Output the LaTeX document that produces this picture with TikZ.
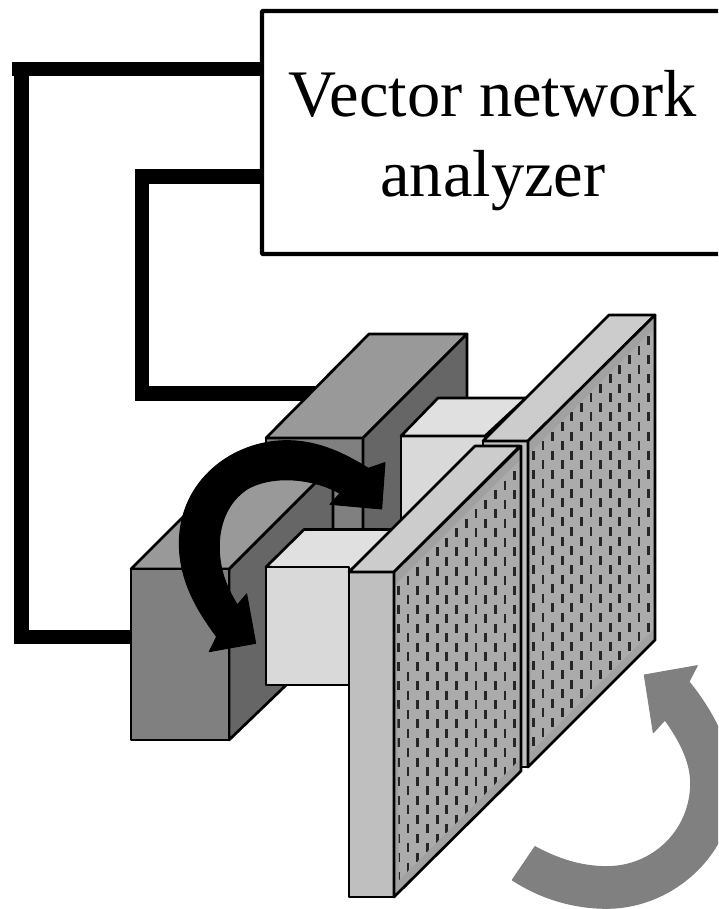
\documentclass[tikz,border=0pt]{standalone}
\usepackage{fontspec}
\setmainfont{Liberation Serif}
\definecolor{topD}{gray}{0.6}
\definecolor{frontD}{gray}{0.5}
\definecolor{sideD}{gray}{0.4}
\definecolor{topL}{gray}{0.88}
\definecolor{frontL}{gray}{0.85}
\definecolor{topP}{gray}{0.8}
\definecolor{frontP}{gray}{0.75}
\definecolor{sideP}{gray}{0.63}
\definecolor{innerP}{gray}{0.67}
\definecolor{dashP}{gray}{0.15}
\definecolor{arrowG}{gray}{0.5}
\tikzset{
  face/.style={draw=black,line width=2.7pt,line join=round},
  wire/.style={draw=black,line width=14.5pt},
  holes/.style={draw=dashP,line width=2.8pt},
  vnabox/.style={draw=black,line width=4.4pt,fill=white,rounded corners=1pt,minimum width=460pt,minimum height=243pt,inner sep=0pt},
  vnatext/.style={inner sep=0pt,align=center,font=\fontsize{66.5}{80}\selectfont}
}
\begin{document}
\begin{tikzpicture}[x=1pt,y=-1pt]
\useasboundingbox (0,0) rectangle (718,909);
\clip (0,0) rectangle (718,909);
\fill[white] (0,0) rectangle (718,909);
% named ports
\coordinate (w1a) at (262,69);
\coordinate (w1b) at (131,637);
\coordinate (w2a) at (262,176.5);
\coordinate (w2b) at (320,393.5);
% wires
\draw[wire] (w1a) -- (12,69) (21.5,69) -- (21.5,637) (14,637) -- (w1b);
\draw[wire] (w2a) -- (135,176.5) (142,176.5) -- (142,393.5) (135,393.5) -- (w2b);
% analyzer
\node[vnabox] (vna) at (492,132.5) {};
\node[vnatext,yshift=-8pt,xshift=1pt] (vnalabel) at (vna.center) {Vector network\\analyzer};
% upper block
\filldraw[face,fill=frontD] (266,438) rectangle (363,540);
\filldraw[face,fill=topD] (266,438) -- (363,438) -- (467,334) -- (369,334) -- cycle;
\filldraw[face,fill=sideD] (363,438) -- (467,334) -- (467,480) -- (363,584) -- cycle;
% lower block
\filldraw[face,fill=sideD] (229,569) -- (333,465) -- (333,640) -- (229,740) -- cycle;
\filldraw[face,fill=topD] (131,569) -- (229,569) -- (333,465) -- (235,465) -- cycle;
\filldraw[face,fill=frontD] (131,569) rectangle (229,740);
% rear light box
\filldraw[face,fill=frontL] (401,436) rectangle (485,540);
\filldraw[face,fill=topL] (401,436) -- (438,398) -- (526,398) -- (485,436) -- cycle;
% rear plate
\filldraw[face,fill=frontP] (483,441) rectangle (528,767);
\filldraw[face,fill=topP] (483,441) -- (528,441) -- (655,315) -- (609,315) -- cycle;
\fill[sideP] (528,441) -- (655,315) -- (655,640) -- (528,767) -- cycle;
\begin{scope}
  \clip (530,453) -- (655,328) -- (655,628) -- (531,752) -- cycle;
  \fill[innerP] (520,300) rectangle (660,780);
  \foreach \i in {0,...,12}{
    \pgfmathsetmacro{\xx}{533.3+9.6*\i}
    \pgfmathsetmacro{\yy}{436+9.55*mod(\i,2)}
    \foreach \k in {-7,...,18}{
      \draw[holes] (\xx,\yy+19.1*\k-4.5) -- (\xx,\yy+19.1*\k+4.5);
    }
  }
\end{scope}
\draw[face] (528,441) -- (655,315) -- (655,640) -- (528,767) -- cycle;
% front light box
\filldraw[face,fill=topL] (266,567) -- (304,529.5) -- (393,529.5) -- (349,572) -- cycle;
\filldraw[face,fill=frontL] (266,567) rectangle (349,685);
% front plate
\filldraw[face,fill=frontP] (349,572) rectangle (394,897);
\filldraw[face,fill=topP] (349,572) -- (394,572) -- (520,446) -- (475,446) -- cycle;
\fill[sideP] (394,572) -- (521,446) -- (521,771) -- (394,897) -- cycle;
\begin{scope}
  \clip (396,584) -- (521,459) -- (521,758) -- (399,880) -- cycle;
  \fill[innerP] (390,440) rectangle (525,900);
  \foreach \i in {0,...,12}{
    \pgfmathsetmacro{\xx}{398.3+9.7*\i}
    \pgfmathsetmacro{\yy}{571+9.55*mod(\i,2)}
    \foreach \k in {-7,...,18}{
      \draw[holes] (\xx,\yy+19.1*\k-4.5) -- (\xx,\yy+19.1*\k+4.5);
    }
  }
\end{scope}
\draw[face] (394,572) -- (521,446) -- (521,771) -- (394,897) -- cycle;
% black arrow
\begin{scope}[shift={(120,320)},x=0.3333pt,y=-0.3333pt]
\fill[black,line join=round,draw=black,line width=1pt]
  (795,428) -- (785,567) -- (630,553) -- (660,520)
  .. controls (590,480) and (470,460) .. (385,505)
  .. controls (320,545) and (295,620) .. (298,690)
  .. controls (300,760) and (325,810) .. (352,855)
  -- (380,822) -- (407,970) -- (268,995) -- (290,950)
  .. controls (230,870) and (178,780) .. (178,670)
  .. controls (178,480) and (340,362) .. (500,362)
  .. controls (600,362) and (680,405) .. (745,445) -- cycle;
\end{scope}
% grey arrow
\begin{scope}[shift={(340,600)},x=0.3333pt,y=-0.3333pt]
\fill[arrowG,draw=arrowG,line join=round,line width=1pt]
  (1072,197) -- (913,225) -- (940,398) -- (975,360)
  .. controls (1025,430) and (1052,490) .. (1052,550)
  .. controls (1052,690) and (940,800) .. (800,800)
  .. controls (720,800) and (650,775) .. (585,740)
  -- (517,840)
  .. controls (600,895) and (700,925) .. (800,925)
  .. controls (1000,925) and (1180,760) .. (1180,560)
  .. controls (1180,450) and (1120,335) .. (1047,245) -- cycle;
\end{scope}
\end{tikzpicture}
\end{document}
